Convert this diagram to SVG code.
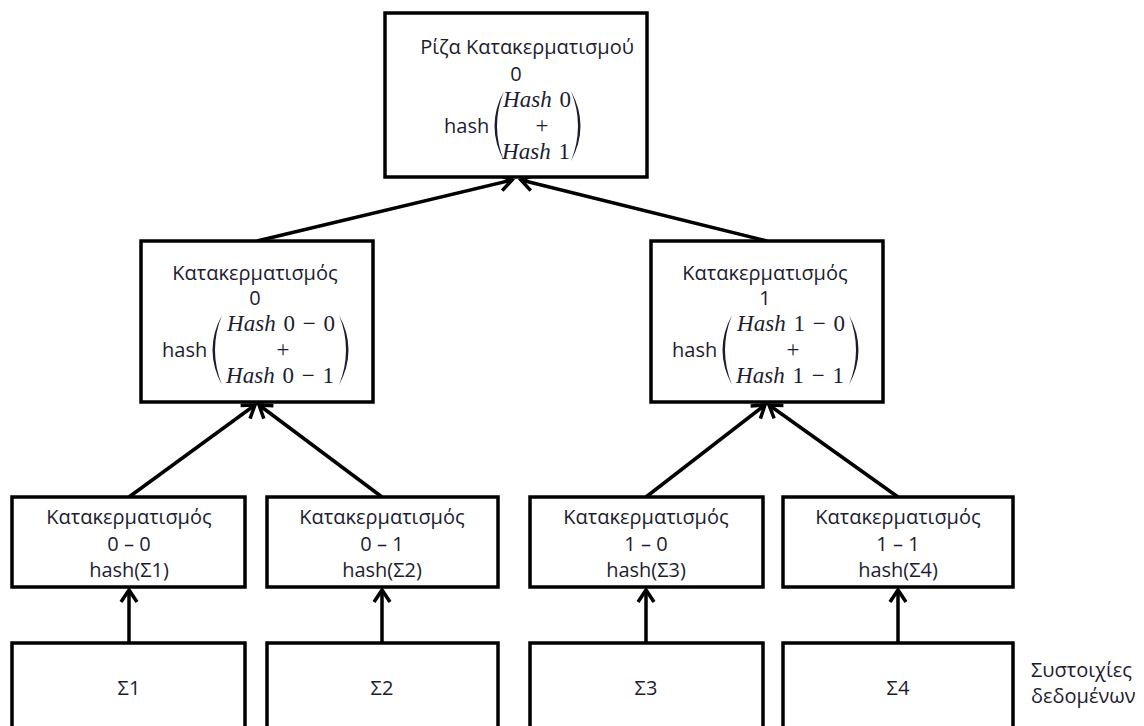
<svg xmlns="http://www.w3.org/2000/svg" width="1144" height="726" viewBox="0 0 1144 726">
  <defs>
    <marker id="arrow" markerUnits="userSpaceOnUse" markerWidth="30" markerHeight="30" viewBox="-20 -15 30 30" refX="0" refY="0" orient="auto">
      <path d="M-12,-8 L0,0 L-12,8" fill="none" stroke="#000" stroke-width="3.5" stroke-linejoin="miter"/>
    </marker>
    <style>
      .box { fill: #fff; stroke: #000; stroke-width: 3.5; }
      .lbl { font-family: "Open Sans", "Noto Sans", sans-serif; font-size: 20px; fill: #1c1c30; text-anchor: middle; }
      .lblL { font-family: "Open Sans", "Noto Sans", sans-serif; font-size: 20px; fill: #1c1c30; }
      .math { font-family: "Liberation Serif", "DejaVu Serif", serif; font-size: 23px; fill: #1c1c30; text-anchor: middle; word-spacing: 2px; }
      .paren { fill: #1c1c30; stroke: none; }
      .conn { fill: none; stroke: #000; stroke-width: 3.5; marker-end: url(#arrow); }
    </style>
  </defs>

  <rect width="1144" height="726" fill="#fff"/>

  <!-- connectors -->
  <g id="connectors">
    <line class="conn" x1="257" y1="241" x2="512" y2="180"/>
    <line class="conn" x1="767" y1="241" x2="521" y2="180"/>
    <line class="conn" x1="129" y1="497" x2="255" y2="405"/>
    <line class="conn" x1="382" y1="497" x2="259" y2="405"/>
    <line class="conn" x1="646" y1="497" x2="765" y2="405"/>
    <line class="conn" x1="898" y1="497" x2="769" y2="405"/>
    <line class="conn" x1="129" y1="643" x2="129" y2="590"/>
    <line class="conn" x1="382" y1="643" x2="382" y2="590"/>
    <line class="conn" x1="646" y1="643" x2="646" y2="590"/>
    <line class="conn" x1="898" y1="643" x2="898" y2="590"/>
  </g>

  <!-- root -->
  <g id="root">
    <rect class="box" x="385" y="13" width="262" height="164"/>
    <text class="lbl" x="527" y="54">Ρίζα Κατακερματισμού</text>
    <text class="lbl" x="516" y="81">0</text>
    <text class="lblL" x="444" y="133">hash</text>
    <path class="paren" d="M504,91 Q485,126 504,161 Q490,126 504,91 Z"/>
    <path class="paren" d="M571,91 Q590,126 571,161 Q585,126 571,91 Z"/>
    <text class="math" x="537" y="107"><tspan font-style="italic">Hash</tspan> 0</text>
    <text class="math" x="542" y="133">+</text>
    <text class="math" x="536" y="159"><tspan font-style="italic">Hash</tspan> 1</text>
  </g>

  <!-- level 1 -->
  <g id="h0">
    <rect class="box" x="141" y="241" width="232" height="161"/>
    <text class="lbl" x="255" y="280">Κατακερματισμός</text>
    <text class="lbl" x="255" y="305">0</text>
    <text class="lblL" x="162" y="357">hash</text>
    <path class="paren" d="M222,315 Q203,350 222,385 Q208,350 222,315 Z"/>
    <path class="paren" d="M339,315 Q358,350 339,385 Q353,350 339,315 Z"/>
    <text class="math" x="281" y="331"><tspan font-style="italic">Hash</tspan> 0 − 0</text>
    <text class="math" x="283" y="357">+</text>
    <text class="math" x="280" y="383"><tspan font-style="italic">Hash</tspan> 0 − 1</text>
  </g>

  <g id="h1">
    <rect class="box" x="651" y="241" width="232" height="161"/>
    <text class="lbl" x="765" y="280">Κατακερματισμός</text>
    <text class="lbl" x="765" y="305">1</text>
    <text class="lblL" x="672" y="357">hash</text>
    <path class="paren" d="M732,315 Q713,350 732,385 Q718,350 732,315 Z"/>
    <path class="paren" d="M849,315 Q868,350 849,385 Q863,350 849,315 Z"/>
    <text class="math" x="791" y="331"><tspan font-style="italic">Hash</tspan> 1 − 0</text>
    <text class="math" x="793" y="357">+</text>
    <text class="math" x="790" y="383"><tspan font-style="italic">Hash</tspan> 1 − 1</text>
  </g>

  <!-- level 2 -->
  <g id="h00">
    <rect class="box" x="12" y="497" width="233" height="90"/>
    <text class="lbl" x="129" y="524">Κατακερματισμός</text>
    <text class="lbl" x="129" y="551">0 – 0</text>
    <text class="lbl" x="129" y="577">hash(Σ1)</text>
  </g>
  <g id="h01">
    <rect class="box" x="267" y="497" width="231" height="90"/>
    <text class="lbl" x="382" y="524">Κατακερματισμός</text>
    <text class="lbl" x="382" y="551">0 – 1</text>
    <text class="lbl" x="382" y="577">hash(Σ2)</text>
  </g>
  <g id="h10">
    <rect class="box" x="530" y="497" width="233" height="90"/>
    <text class="lbl" x="646" y="524">Κατακερματισμός</text>
    <text class="lbl" x="646" y="551">1 – 0</text>
    <text class="lbl" x="646" y="577">hash(Σ3)</text>
  </g>
  <g id="h11">
    <rect class="box" x="783" y="497" width="230" height="90"/>
    <text class="lbl" x="898" y="524">Κατακερματισμός</text>
    <text class="lbl" x="898" y="551">1 – 1</text>
    <text class="lbl" x="898" y="577">hash(Σ4)</text>
  </g>

  <!-- data blocks -->
  <g id="d1">
    <rect class="box" x="12" y="643" width="233" height="100"/>
    <text class="lbl" x="129" y="695">Σ1</text>
  </g>
  <g id="d2">
    <rect class="box" x="267" y="643" width="231" height="100"/>
    <text class="lbl" x="382" y="695">Σ2</text>
  </g>
  <g id="d3">
    <rect class="box" x="530" y="643" width="233" height="100"/>
    <text class="lbl" x="646" y="695">Σ3</text>
  </g>
  <g id="d4">
    <rect class="box" x="783" y="643" width="230" height="100"/>
    <text class="lbl" x="898" y="695">Σ4</text>
  </g>

  <g id="caption">
    <text class="lblL" x="1031" y="677">Συστοιχίες</text>
    <text class="lblL" x="1031" y="703">δεδομένων</text>
  </g>
</svg>
